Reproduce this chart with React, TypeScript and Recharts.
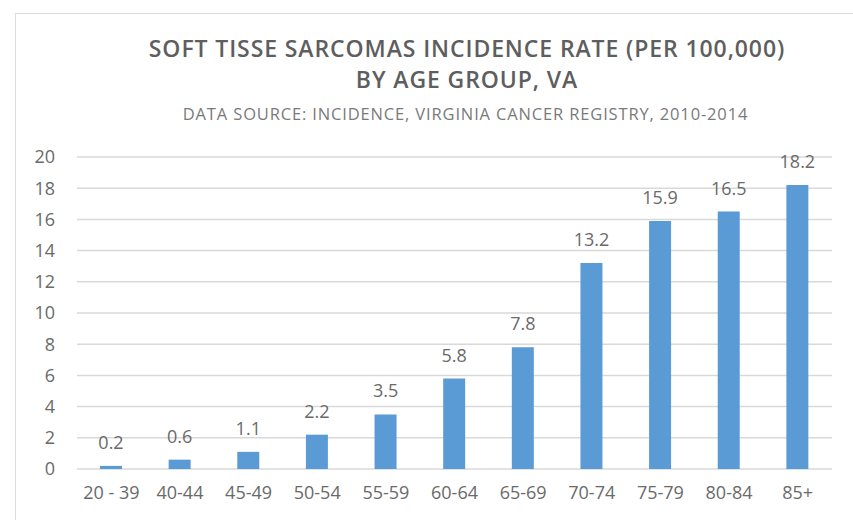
import React from 'react';
import { BarChart, Bar, XAxis, YAxis, CartesianGrid, LabelList } from 'recharts';

const ageGroups = ['20 - 39', '40-44', '45-49', '50-54', '55-59', '60-64', '65-69', '70-74', '75-79', '80-84', '85+'];
const incidenceRates = [0.2, 0.6, 1.1, 2.2, 3.5, 5.8, 7.8, 13.2, 15.9, 16.5, 18.2];
const yTicks = [0, 2, 4, 6, 8, 10, 12, 14, 16, 18, 20];

const data = ageGroups.map((age, i) => ({ age, rate: incidenceRates[i] }));

const FONT = '"Open Sans", "Liberation Sans", sans-serif';
const TEXT = '#6a6a6a';

const App: React.FC = () => {
  return (
    <div
      style={{
        position: 'absolute',
        left: 0,
        top: 0,
        width: 853,
        height: 520,
        overflow: 'hidden',
        background: '#fff',
        fontFamily: FONT,
      }}
    >
      {/* chart frame, runs off the right and bottom edge like the screenshot */}
      <div
        style={{
          position: 'absolute',
          left: 15,
          top: 13,
          width: 900,
          height: 600,
          border: '1.5px solid #dcdcdc',
        }}
      />
      <div style={{ position: 'absolute', left: 0, top: 33, width: 934, textAlign: 'center', color: '#5e5e5e', fontSize: 23, fontWeight: 600, lineHeight: '31px', letterSpacing: 0.9 }}>
        SOFT TISSE SARCOMAS INCIDENCE RATE (PER 100,000)
        <br />
        BY AGE GROUP, VA
      </div>
      <div style={{ position: 'absolute', left: 0, top: 103, width: 931, textAlign: 'center', color: '#7a7a7a', fontSize: 16.5, lineHeight: '22px', letterSpacing: 0.85 }}>
        DATA SOURCE: INCIDENCE, VIRGINIA CANCER REGISTRY, 2010-2014
      </div>
      <div style={{ position: 'absolute', left: 0, top: 0 }}>
        <BarChart width={853} height={520} data={data} margin={{ top: 157, right: 21, bottom: 11, left: 17 }}>
          <CartesianGrid horizontal vertical={false} stroke="#d9d9d9" strokeWidth={1.5} />
          <XAxis
            dataKey="age"
            axisLine={false}
            tickLine={false}
            tickSize={0}
            tickMargin={17}
            height={40}
            interval={0}
            tick={{ fill: TEXT, fontSize: 18, fontFamily: FONT }}
          />
          <YAxis
            domain={[0, 20]}
            ticks={yTicks}
            axisLine={false}
            tickLine={false}
            tickSize={0}
            tickMargin={22}
            width={60}
            tick={{ fill: TEXT, fontSize: 18, fontFamily: FONT }}
          />
          <Bar dataKey="rate" fill="#5b9bd5" barSize={22} isAnimationActive={false}>
            <LabelList dataKey="rate" position="top" offset={17} fill={TEXT} fontSize={18} fontFamily={FONT} />
          </Bar>
        </BarChart>
      </div>
    </div>
  );
};

export default App;
